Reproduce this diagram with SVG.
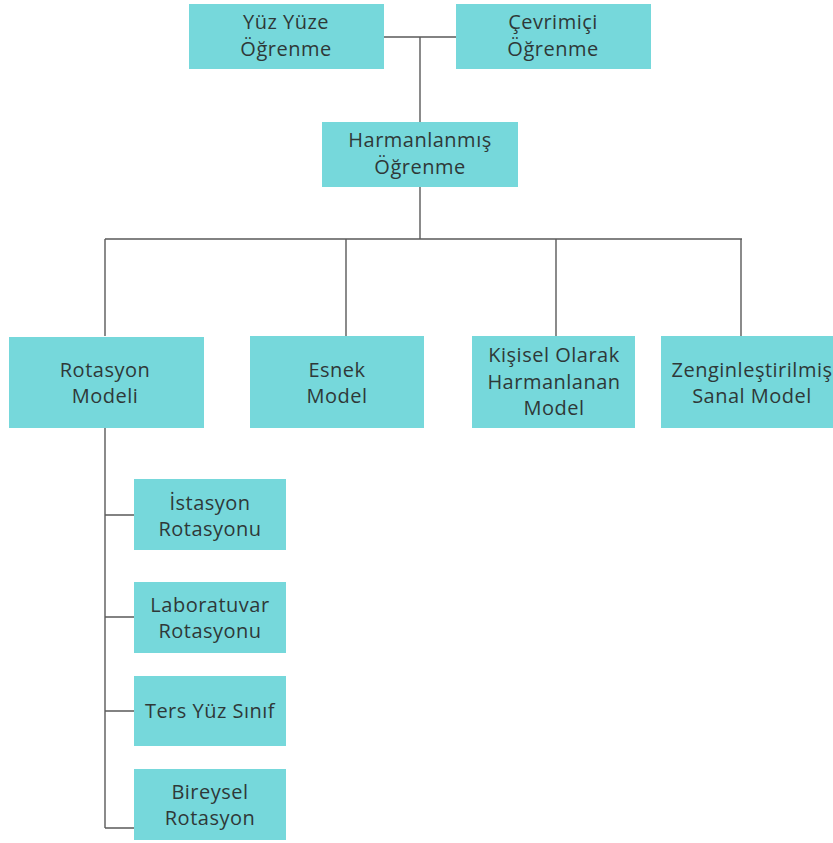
<svg xmlns="http://www.w3.org/2000/svg" width="833" height="843" viewBox="0 0 833 843">
  <style>
    .box { fill: #76d8db; }
    .lbl { font-family: "Open Sans", "Noto Sans", sans-serif; font-size: 20px; letter-spacing: 0.5px; fill: #2f3838; text-anchor: middle; }
    .conn { stroke: #5a5a5a; stroke-width: 1.4; fill: none; }
  </style>
  <rect width="833" height="843" fill="#ffffff"/>

  <g id="connectors">
    <path class="conn" d="M384 37 H456 M420 37 V122"/>
    <path class="conn" d="M420 187 V239 M105 239 H742 M105 239 V336 M346 239 V336 M556 239 V336 M741 239 V336"/>
    <path class="conn" d="M105 428 V828 M105 515 H134 M105 617 H134 M105 711 H134 M105 828 H134"/>
  </g>

  <g id="yuz-yuze">
    <rect class="box" x="189" y="4" width="195" height="65"/>
    <text class="lbl" x="286" y="29">Yüz Yüze</text>
    <text class="lbl" x="286" y="56">Öğrenme</text>
  </g>
  <g id="cevrimici">
    <rect class="box" x="456" y="4" width="195" height="65"/>
    <text class="lbl" x="553" y="29">Çevrimiçi</text>
    <text class="lbl" x="553" y="56">Öğrenme</text>
  </g>
  <g id="harmanlanmis">
    <rect class="box" x="322" y="122" width="196" height="65"/>
    <text class="lbl" x="420" y="147">Harmanlanmış</text>
    <text class="lbl" x="420" y="174">Öğrenme</text>
  </g>
  <g id="rotasyon">
    <rect class="box" x="9" y="337" width="195" height="91"/>
    <text class="lbl" x="105" y="377">Rotasyon</text>
    <text class="lbl" x="105" y="403">Modeli</text>
  </g>
  <g id="esnek">
    <rect class="box" x="250" y="336" width="174" height="92"/>
    <text class="lbl" x="337" y="377">Esnek</text>
    <text class="lbl" x="337" y="403">Model</text>
  </g>
  <g id="kisisel">
    <rect class="box" x="472" y="336" width="163" height="92"/>
    <text class="lbl" x="554" y="362">Kişisel Olarak</text>
    <text class="lbl" x="554" y="389">Harmanlanan</text>
    <text class="lbl" x="554" y="415">Model</text>
  </g>
  <g id="zenginlestirilmis">
    <rect class="box" x="661" y="336" width="172" height="92"/>
    <text class="lbl" x="752" y="377">Zenginleştirilmiş</text>
    <text class="lbl" x="752" y="403">Sanal Model</text>
  </g>
  <g id="istasyon">
    <rect class="box" x="134" y="479" width="152" height="71"/>
    <text class="lbl" x="210" y="510">İstasyon</text>
    <text class="lbl" x="210" y="536">Rotasyonu</text>
  </g>
  <g id="laboratuvar">
    <rect class="box" x="134" y="582" width="152" height="71"/>
    <text class="lbl" x="210" y="612">Laboratuvar</text>
    <text class="lbl" x="210" y="638">Rotasyonu</text>
  </g>
  <g id="ters-yuz">
    <rect class="box" x="134" y="676" width="152" height="70"/>
    <text class="lbl" x="210" y="718">Ters Yüz Sınıf</text>
  </g>
  <g id="bireysel">
    <rect class="box" x="134" y="769" width="152" height="71"/>
    <text class="lbl" x="210" y="799">Bireysel</text>
    <text class="lbl" x="210" y="825">Rotasyon</text>
  </g>
</svg>
